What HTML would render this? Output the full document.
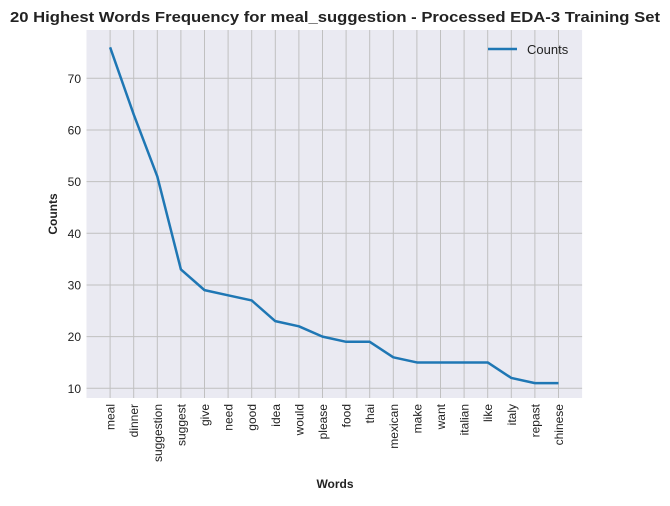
<!DOCTYPE html>
<html><head><meta charset="utf-8"><style>
body{margin:0;background:#fff;}
svg{font-family:"Liberation Sans",Arial,sans-serif;}
</style></head><body>
<svg width="670" height="501" viewBox="0 0 670 501">
<text x="10" y="22" textLength="650" lengthAdjust="spacingAndGlyphs" font-size="15" font-weight="bold" fill="#222">20 Highest Words Frequency for meal_suggestion - Processed EDA-3 Training Set</text>
<rect x="86.5" y="30" width="495.6" height="368" fill="#eaeaf2"/>
<g id="grid"></g>
<g id="ticks"></g>
<polyline id="line" fill="none" stroke="#1f77b4" stroke-width="2.5" stroke-linejoin="round"/>
<g>
<line x1="488" y1="49" x2="517" y2="49" stroke="#1f77b4" stroke-width="2.5"/>
<text x="527" y="54" font-size="13" fill="#222">Counts</text>
</g>
<text x="0" y="0" transform="translate(57,214) rotate(-90)" text-anchor="middle" font-size="12" font-weight="bold" fill="#222">Counts</text>
<text x="335" y="488" text-anchor="middle" font-size="12" font-weight="bold" fill="#222">Words</text>
</svg>
<script>
const words=["meal","dinner","suggestion","suggest","give","need","good","idea","would","please","food","thai","mexican","make","want","italian","like","italy","repast","chinese"];
const counts=[76,63,51,33,29,28,27,23,22,20,19,19,16,15,15,15,15,12,11,11];
const yTicks=[10,20,30,40,50,60,70];
const NS="http://www.w3.org/2000/svg";
const x=i=>86.5+(i+1)*23.6;
const y=v=>388.3-(v-10)*5.167;
const grid=document.getElementById('grid'),ticks=document.getElementById('ticks');
function mk(tag,attrs,parent){const e=document.createElementNS(NS,tag);for(const k in attrs)e.setAttribute(k,attrs[k]);parent.appendChild(e);return e;}
yTicks.forEach(t=>{
 const l=mk('line',{x1:86.5,x2:582.1,y1:y(t),y2:y(t),stroke:'#c0c0c0','stroke-width':1},grid);
 
 
 const tx=mk('text',{x:81,y:y(t)+4.5,'text-anchor':'end','font-size':12,fill:'#222'},ticks);
 tx.textContent=t;
 
 
});
words.forEach((w,i)=>{
 const l=mk('line',{x1:x(i),x2:x(i),y1:30,y2:398,stroke:'#c0c0c0','stroke-width':1},grid);
 
 
 const tx=mk('text',{transform:`translate(${x(i)+4.5},404) rotate(-90)`,'text-anchor':'end','font-size':12,fill:'#222'},ticks);
 tx.textContent=w;
 
 
});
document.getElementById('line').setAttribute('points',counts.map((c,i)=>x(i)+','+y(c)).join(' '));
</script>
</body></html>
